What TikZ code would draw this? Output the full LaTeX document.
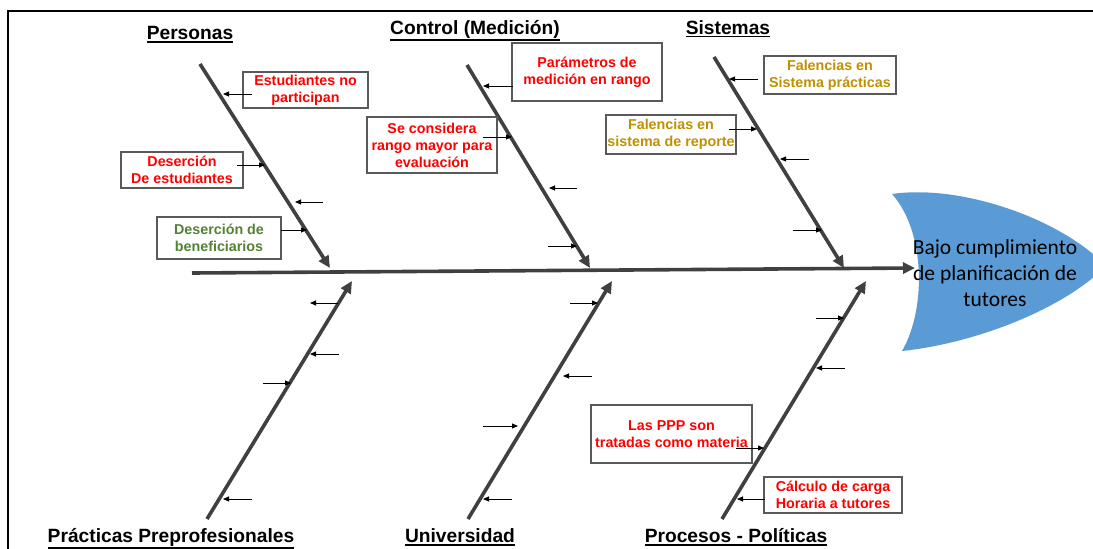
\documentclass[tikz,border=0pt]{standalone}
\usepackage{fontspec}
\setmainfont{Liberation Sans}
\newfontfamily\headfont{Carlito}
\usetikzlibrary{arrows.meta}

\definecolor{bonegray}{HTML}{404040}
\definecolor{boxgray}{HTML}{595959}
\definecolor{causered}{HTML}{FF0000}
\definecolor{causegold}{HTML}{BF9000}
\definecolor{causegreen}{HTML}{548235}
\definecolor{headblue}{HTML}{5B9BD5}

% underlined heading of a bone
\newcommand{\undertitle}[1]{\vtop{\hbox{#1}\kern1.4pt\hrule height 1.5pt}}

\tikzset{
  bone/.style={draw=bonegray, line width=3.6pt, -{Triangle[length=12pt,width=11pt]}},
  cause/.style={draw=black, line width=0.9pt, -{Triangle[length=6pt,width=5pt]}},
  causebox/.style={draw=boxgray, line width=1.2pt, fill=white, align=center, inner sep=0pt,
    font=\bfseries\fontsize{14.3}{17}\selectfont},
  cattitle/.style={anchor=base, inner sep=0pt, font=\bfseries\fontsize{19.2}{23}\selectfont}
}

\begin{document}
\begin{tikzpicture}[x=1pt,y=-1pt]
\useasboundingbox (0,0) rectangle (1093,549);
\clip (0,0) rectangle (1093,549);

% frame
\draw[line width=2pt] (8,560) -- (8,11) -- (1100,11);

% head
\fill[headblue] (892,194) .. controls (960,184) and (1060,218) .. (1106,266)
  .. controls (1060,312) and (970,344) .. (902,351)
  .. controls (926,310) and (926,232) .. (892,194);
\node[align=center, font=\headfont\fontsize{21.5}{26}\selectfont] (head) at (995,273)
  {Bajo cumplimiento\\de planificación de\\tutores};

% spine
\coordinate (tail) at (192,273);
\coordinate (mouth) at (915,268);
\draw[bone] (tail) -- (mouth);

% bones
\coordinate (perT) at (200,64);
\coordinate (perH) at (330,268);
\coordinate (conT) at (467,65);
\coordinate (conH) at (590,268);
\coordinate (sisT) at (714,57);
\coordinate (sisH) at (844,268);
\coordinate (praT) at (207,519);
\coordinate (praH) at (352,281);
\coordinate (uniT) at (468,519);
\coordinate (uniH) at (612,281);
\coordinate (proT) at (722,519);
\coordinate (proH) at (866,281);
\draw[bone] (perT) -- (perH);
\draw[bone] (conT) -- (conH);
\draw[bone] (sisT) -- (sisH);
\draw[bone] (praT) -- (praH);
\draw[bone] (uniT) -- (uniH);
\draw[bone] (proT) -- (proH);

% titles
\node[cattitle] (personas) at (190,39.5) {\undertitle{Personas}};
\node[cattitle] (control) at (475,34) {\undertitle{Control (Medición)}};
\node[cattitle] (sistemas) at (728,34) {\undertitle{Sistemas}};
\node[cattitle] (practicas) at (171,542) {\undertitle{Prácticas Preprofesionales}};
\node[cattitle] (universidad) at (460,542.5) {\undertitle{Universidad}};
\node[cattitle] (procesos) at (736,542.5) {\undertitle{Procesos - Políticas}};

% causes
\node[causebox, text=causered, minimum width=125pt, minimum height=36pt] (estud) at (305.5,90) {Estudiantes no\\participan};
\node[causebox, text=causered, minimum width=122pt, minimum height=36pt] (deser) at (182,170) {Deserción\\De estudiantes};
\node[causebox, text=causegreen, minimum width=124pt, minimum height=42pt] (benef) at (219,238) {Deserción de\\beneficiarios};
\node[causebox, text=causered, minimum width=150pt, minimum height=58pt] (param) at (587,72) {Parámetros de\\medición en rango};
\node[causebox, text=causered, minimum width=130pt, minimum height=56pt] (rango) at (432,145) {Se considera\\rango mayor para\\evaluación};
\node[causebox, text=causegold, minimum width=132pt, minimum height=38pt] (fpract) at (830,75) {Falencias en\\Sistema prácticas};
\node[causebox, text=causegold, minimum width=130pt, minimum height=39pt] (frepor) at (671,134.5) {Falencias en\\sistema de reporte};
\node[causebox, text=causered, minimum width=161pt, minimum height=58pt] (ppp) at (671.5,434) {Las PPP son\\tratadas como materia};
\node[causebox, text=causered, minimum width=138pt, minimum height=36pt] (carga) at (833,495) {Cálculo de carga\\Horaria a tutores};

% small arrows on Personas
\coordinate (p1a) at (252,94);  \coordinate (p1b) at (223,94);
\coordinate (p2a) at (237,165); \coordinate (p2b) at (265,165);
\coordinate (p3a) at (323,202); \coordinate (p3b) at (295,202);
\coordinate (p4a) at (281,230); \coordinate (p4b) at (307,230);
\draw[cause] (p1a) -- (p1b);
\draw[cause] (p2a) -- (p2b);
\draw[cause] (p3a) -- (p3b);
\draw[cause] (p4a) -- (p4b);
% small arrows on Control
\coordinate (c1a) at (513,86);  \coordinate (c1b) at (483,86);
\coordinate (c2a) at (483,137); \coordinate (c2b) at (512,137);
\coordinate (c3a) at (577,188); \coordinate (c3b) at (549,188);
\coordinate (c4a) at (548,246); \coordinate (c4b) at (577,246);
\draw[cause] (c1a) -- (c1b);
\draw[cause] (c2a) -- (c2b);
\draw[cause] (c3a) -- (c3b);
\draw[cause] (c4a) -- (c4b);
% small arrows on Sistemas
\coordinate (s1a) at (758,79);  \coordinate (s1b) at (729,79);
\coordinate (s2a) at (729,129); \coordinate (s2b) at (757,129);
\coordinate (s3a) at (809,159); \coordinate (s3b) at (780,159);
\coordinate (s4a) at (793,230); \coordinate (s4b) at (822,230);
\draw[cause] (s1a) -- (s1b);
\draw[cause] (s2a) -- (s2b);
\draw[cause] (s3a) -- (s3b);
\draw[cause] (s4a) -- (s4b);
% small arrows on Practicas
\coordinate (r1a) at (338,303); \coordinate (r1b) at (310,303);
\coordinate (r2a) at (339,354); \coordinate (r2b) at (310,354);
\coordinate (r3a) at (263,383); \coordinate (r3b) at (291,383);
\coordinate (r4a) at (252,499); \coordinate (r4b) at (223,499);
\draw[cause] (r1a) -- (r1b);
\draw[cause] (r2a) -- (r2b);
\draw[cause] (r3a) -- (r3b);
\draw[cause] (r4a) -- (r4b);
% small arrows on Universidad
\coordinate (u1a) at (570,303); \coordinate (u1b) at (598,303);
\coordinate (u2a) at (592,376); \coordinate (u2b) at (563,376);
\coordinate (u3a) at (483,426); \coordinate (u3b) at (518,426);
\coordinate (u4a) at (512,499); \coordinate (u4b) at (483,499);
\draw[cause] (u1a) -- (u1b);
\draw[cause] (u2a) -- (u2b);
\draw[cause] (u3a) -- (u3b);
\draw[cause] (u4a) -- (u4b);
% small arrows on Procesos
\coordinate (o1a) at (816,318); \coordinate (o1b) at (844,318);
\coordinate (o2a) at (845,368); \coordinate (o2b) at (816,368);
\coordinate (o3a) at (736,448); \coordinate (o3b) at (764,448);
\coordinate (o4a) at (765,499); \coordinate (o4b) at (737,499);
\draw[cause] (o1a) -- (o1b);
\draw[cause] (o2a) -- (o2b);
\draw[cause] (o3a) -- (o3b);
\draw[cause] (o4a) -- (o4b);
\end{tikzpicture}
\end{document}
